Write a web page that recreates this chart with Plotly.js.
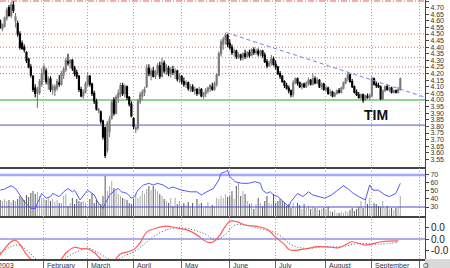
<!DOCTYPE html>
<html><head><meta charset="utf-8">
<script src="https://cdn.plot.ly/plotly-3.0.1.min.js"></script>
<style>html,body{margin:0;padding:0;background:#fff}#chart{width:450px;height:268px}</style>
</head><body><div id="chart"></div>
<script>
// ---- trading-day OHLC (index 0 = 2 Jan 2003) ----
const openP = [4.52,4.58,4.60,4.54,4.56,4.62,4.70,4.64,4.72,4.60,
4.58,4.50,4.43,4.40,4.36,4.31,4.25,4.18,4.09,4.05,
4.06,4.12,4.20,4.22,4.12,4.16,4.08,4.07,4.09,4.13,
4.12,4.19,4.23,4.29,4.28,4.30,4.24,4.21,4.18,4.08,
4.03,4.06,4.12,4.18,4.12,4.05,3.99,3.92,3.91,3.84,
3.79,3.62,3.76,3.86,4.00,3.90,4.02,4.04,4.11,4.05,
4.10,4.02,3.97,3.86,3.78,3.79,3.99,4.03,4.06,4.10,
4.24,4.19,4.22,4.18,4.21,4.26,4.18,4.28,4.22,4.24,
4.20,4.23,4.21,4.22,4.16,4.18,4.14,4.12,4.13,4.09,
4.10,4.07,4.08,4.05,4.08,4.03,4.05,4.07,4.09,4.10,
4.08,4.12,4.19,4.35,4.42,4.46,4.49,4.43,4.40,4.36,
4.37,4.33,4.34,4.32,4.35,4.33,4.36,4.34,4.38,4.36,
4.37,4.35,4.37,4.34,4.29,4.26,4.28,4.31,4.27,4.25,
4.20,4.18,4.14,4.11,4.09,4.07,4.04,4.13,4.16,4.13,
4.10,4.12,4.10,4.13,4.15,4.12,4.16,4.13,4.15,4.10,
4.12,4.08,4.09,4.05,4.06,4.03,4.05,4.07,4.06,4.09,
4.13,4.16,4.19,4.14,4.10,4.06,4.04,4.02,4.04,4.00,
4.03,4.02,4.03,4.16,4.12,4.11,4.10,4.01,4.07,4.10,
4.08,4.09,4.06,4.07,4.06,4.08];
const highP = [4.60,4.62,4.61,4.58,4.63,4.70,4.72,4.74,4.75,4.66,
4.60,4.52,4.45,4.42,4.37,4.32,4.27,4.19,4.12,4.10,
4.16,4.24,4.27,4.24,4.18,4.18,4.12,4.12,4.16,4.19,
4.22,4.25,4.32,4.35,4.31,4.31,4.26,4.23,4.19,4.10,
4.08,4.14,4.21,4.19,4.13,4.07,4.01,3.94,3.92,3.85,
3.80,3.84,3.88,4.00,4.02,4.04,4.08,4.13,4.13,4.12,
4.11,4.03,3.99,3.87,3.80,4.01,4.06,4.08,4.10,4.27,
4.27,4.24,4.25,4.23,4.28,4.29,4.32,4.30,4.27,4.26,
4.25,4.26,4.24,4.23,4.20,4.19,4.17,4.15,4.14,4.12,
4.12,4.10,4.09,4.10,4.09,4.06,4.09,4.10,4.12,4.13,
4.14,4.20,4.37,4.46,4.48,4.51,4.50,4.46,4.42,4.39,
4.38,4.36,4.35,4.36,4.38,4.37,4.38,4.39,4.40,4.39,
4.39,4.38,4.38,4.36,4.31,4.30,4.34,4.33,4.30,4.26,
4.22,4.19,4.15,4.13,4.11,4.08,4.15,4.17,4.17,4.14,
4.13,4.13,4.14,4.17,4.16,4.20,4.18,4.17,4.16,4.13,
4.13,4.11,4.10,4.08,4.07,4.06,4.08,4.09,4.10,4.14,
4.17,4.21,4.20,4.16,4.11,4.08,4.06,4.05,4.05,4.04,
4.05,4.05,4.18,4.17,4.14,4.13,4.11,4.08,4.11,4.12,
4.10,4.10,4.08,4.08,4.10,4.17];
const lowP = [4.50,4.54,4.54,4.52,4.55,4.60,4.63,4.62,4.66,4.55,
4.48,4.38,4.38,4.36,4.28,4.24,4.17,4.06,4.02,3.94,
4.04,4.10,4.15,4.12,4.08,4.06,4.04,4.03,4.07,4.10,
4.11,4.16,4.21,4.26,4.24,4.22,4.18,4.16,4.06,4.02,
4.01,4.05,4.10,4.10,4.03,3.97,3.92,3.90,3.82,3.70,
3.56,3.60,3.72,3.85,3.88,3.89,3.98,4.02,4.03,4.02,
4.00,3.95,3.87,3.78,3.75,3.77,3.97,4.00,4.03,4.09,
4.18,4.15,4.17,4.16,4.19,4.16,4.17,4.20,4.19,4.18,
4.17,4.19,4.16,4.14,4.13,4.12,4.10,4.09,4.07,4.06,
4.06,4.04,4.03,4.04,4.02,4.01,4.02,4.05,4.06,4.07,
4.07,4.10,4.18,4.33,4.38,4.42,4.40,4.38,4.34,4.33,
4.31,4.31,4.30,4.30,4.31,4.32,4.32,4.33,4.34,4.34,
4.33,4.33,4.32,4.28,4.24,4.25,4.26,4.26,4.23,4.19,
4.16,4.13,4.09,4.08,4.05,4.02,4.02,4.12,4.11,4.09,
4.08,4.09,4.09,4.11,4.11,4.11,4.12,4.12,4.09,4.08,
4.07,4.06,4.04,4.03,4.02,4.02,4.04,4.05,4.05,4.08,
4.12,4.14,4.13,4.09,4.05,4.03,4.01,4.00,3.98,3.99,
4.01,4.00,4.02,4.11,4.09,4.09,4.00,4.00,4.06,4.07,
4.06,4.05,4.05,4.05,4.05,4.07];
const closeP = [4.58,4.56,4.55,4.57,4.62,4.68,4.64,4.72,4.68,4.63,
4.50,4.40,4.39,4.38,4.30,4.25,4.19,4.08,4.05,4.08,
4.14,4.20,4.25,4.14,4.16,4.08,4.10,4.10,4.14,4.12,
4.20,4.23,4.30,4.28,4.30,4.24,4.20,4.18,4.08,4.03,
4.06,4.12,4.18,4.12,4.05,3.99,3.93,3.93,3.84,3.72,
3.58,3.82,3.85,3.98,3.90,4.02,4.05,4.11,4.05,4.10,
4.02,3.97,3.88,3.80,3.79,3.99,4.04,4.06,4.08,4.24,
4.20,4.22,4.18,4.21,4.26,4.18,4.28,4.22,4.25,4.20,
4.23,4.21,4.22,4.16,4.18,4.14,4.12,4.13,4.09,4.10,
4.07,4.08,4.05,4.08,4.03,4.05,4.07,4.09,4.11,4.08,
4.12,4.19,4.35,4.44,4.46,4.49,4.42,4.40,4.36,4.37,
4.33,4.34,4.32,4.35,4.33,4.36,4.34,4.38,4.36,4.37,
4.35,4.37,4.34,4.29,4.26,4.28,4.31,4.27,4.25,4.20,
4.18,4.14,4.11,4.09,4.07,4.04,4.13,4.16,4.13,4.10,
4.12,4.10,4.13,4.15,4.12,4.16,4.13,4.15,4.10,4.12,
4.08,4.09,4.05,4.06,4.03,4.05,4.07,4.06,4.09,4.13,
4.16,4.19,4.14,4.10,4.06,4.04,4.02,4.04,4.00,4.03,
4.02,4.03,4.16,4.12,4.11,4.10,4.01,4.07,4.10,4.08,
4.09,4.06,4.07,4.06,4.08,4.16];
const volume = [15,14,16,15,17,15,16,14,16,15,
17,20,18,16,21,19,23,25,22,24,
20,18,17,16,18,15,17,14,16,13,
13,20,22,10,13,18,12,17,15,14,
15,13,8,17,23,13,16,14,12,20,
40,25,30,35,28,25,22,20,18,17,16,
13,12,17,23,18,20,25,22,27,30,
26,30,27,25,22,20,17,15,13,18,
10,18,12,15,10,13,11,14,9,13,
8,17,12,13,8,10,14,9,11,10,
18,17,20,18,22,19,
20,25,17,30,33,20,25,22,15,12,
13,7,12,18,13,10,15,20,13,12,
22,13,15,17,15,13,10,12,8,13,
8,13,11,7,12,8,10,7,9,8,
8,6,7,8,7,9,5,4,6,3,
3,4,3,5,4,6,8,5,7,9,
15,8,17,12,18,10,13,12,10,9,
15,8,10,7,8,6,8,9,20];

// ---- oscillator (blue line, middle panel) ----
const rsiX = [2,4,7,9,11,13,16,18,19,21,23,25,26,29,31,33,35,36,38.5,41,42,45,47,49,51,52,54.5,56,57.5,60,62,63.5,65,67.5,70,72,74,76.5,79,81,85,89,92,94,96.5,99.5,102,103,105,106,107,109.5,112.5,115.5,118.5,121,122,124,125.5,127,129,131.5,134,135,137,138,140.5,143,145,147.5,150.5,153.5,156.5,159,161,163.5,166,169,171,172.5,175,178,180,183,185];
const rsiY = [51,52.5,56.6,53,45,36.7,28.4,28,34.6,47,41,43,47,43,49,53,49,51,38.8,47,51,45,34.6,28.4,41,45,51,53,49,47,41,43,51,57.5,59.6,57.5,59.6,57.5,53,55,51,49,49,45,49,53,63.8,72,74,76,68,61.6,59.6,59.6,61.6,59.6,51,47,49,45,43,36.7,30.4,36.7,43,47,43,49,45,43,41,45,51,56.6,53,47,43,38.8,57.5,51,51,45,43,47,59.6];

// ---- MACD (red) and signal (dotted) ----
const macdX = [1.9,8.7,14.2,17,25,29.3,32.5,35.9,39.8,42.1,45.3,47.6,51,54.5,56.8,62.7,65.9,69,73.6,78.2,82.8,87.4,91.9,96.6,99.4,102.5,104.8,107.1,110.2,114,120,124.6,127.7,131.5,134.5,141.4,147.5,153.6,156.6,159.7,162.8,168.8,176.5,184.1];
const macdY = [-0.058,-0.004,-0.058,-0.08,-0.11,-0.08,-0.047,-0.031,-0.036,-0.036,-0.051,-0.07,-0.095,-0.076,-0.055,-0.040,-0.015,0.025,0.040,0.047,0.040,0.033,0.015,-0.011,-0.011,0.015,0.044,0.065,0.063,0.051,0.045,0.033,0.008,-0.016,-0.040,-0.036,-0.028,-0.030,-0.032,-0.022,-0.010,-0.022,-0.010,-0.007];
const sigX = [1.9,10.1,15.6,17.9,25,29,32.5,37.1,41.7,46.2,50.8,54,59.8,62.9,67.4,72,78.1,82.7,90.3,96.4,100.2,104.8,109.4,114,120,126.2,130.7,135.3,141.4,150.5,158.2,165.8,175,184.1];
const sigY = [-0.051,-0.022,-0.051,-0.069,-0.095,-0.085,-0.065,-0.047,-0.033,-0.047,-0.069,-0.08,-0.058,-0.048,-0.022,0.008,0.033,0.041,0.033,0.015,-0.004,0.015,0.051,0.051,0.039,0.027,0.008,-0.022,-0.034,-0.028,-0.028,-0.016,-0.019,-0.012];

// ---- reference levels and trendline ----
const redDashDotLevels = [4.75];
const redDotLevels = [4.50, 4.40, 4.32, 4.25, 4.20];
const supportLevel = [4.00];
const lowLevel = [3.81];
const trendX = [105.5, 196.5];
const trendY = [4.51, 4.02];
const oscLevels = [70, 30];

// ---- axis labels ----
const monthTicks = [0, 22, 42, 63, 85, 107, 128, 151, 172, 194];
const monthLabels = ['2003','February','March','April','May','June','July','August','September','O'];
const priceTicks = [3.55,3.60,3.65,3.70,3.75,3.80,3.85,3.90,3.95,4.00,4.05,4.10,4.15,4.20,4.25,4.30,4.35,4.40,4.45,4.50,4.55,4.60,4.65,4.70,4.75];
const oscTicks = [30,40,50,60,70];
const macdTicks = [-0.04, 0, 0.04];
const macdTickText = ['-0.0','0.0','0.0'];

const days = openP.map((_, i) => i);
const volColors = days.map(i => closeP[i] >= openP[i] ? '#aaaaaa' : '#555555');
const xRange = [1.9, 196.3];

const FONT = 'Liberation Sans, Arial, sans-serif';

const traces = [
  {type:'candlestick', x:days, open:openP, high:highP, low:lowP, close:closeP,
   xaxis:'x', yaxis:'y', whiskerwidth:0,
   increasing:{line:{color:'#7a7a7a', width:1.1}, fillcolor:'#ffffff'},
   decreasing:{line:{color:'#000000', width:1.1}, fillcolor:'#000000'},
   hoverinfo:'skip'},
  {type:'scatter', mode:'lines', x:trendX, y:trendY, xaxis:'x', yaxis:'y',
   line:{color:'#7b7bee', width:1, dash:'4px,3px'}, hoverinfo:'skip'},
  {type:'bar', x:days, y:volume, xaxis:'x2', yaxis:'y2', width:0.45,
   marker:{color:volColors, line:{width:0}}, hoverinfo:'skip'},
  {type:'scatter', mode:'lines', x:rsiX, y:rsiY, xaxis:'x2', yaxis:'y4',
   line:{color:'#5a5af0', width:1}, hoverinfo:'skip'},
  {type:'scatter', mode:'lines', x:sigX, y:sigY, xaxis:'x3', yaxis:'y3',
   line:{color:'#555555', width:1, dash:'1px,2px', shape:'spline'}, hoverinfo:'skip'},
  {type:'scatter', mode:'lines', x:macdX, y:macdY, xaxis:'x3', yaxis:'y3',
   line:{color:'#ff5a5a', width:1.2, shape:'spline'}, hoverinfo:'skip'}
];

const shapes = [];
redDashDotLevels.forEach(v => shapes.push({type:'line', xref:'paper', x0:0, x1:1, yref:'y', y0:v, y1:v, line:{color:'#e06060', width:1, dash:'6px,2px,1px,2px'}}));
redDotLevels.forEach(v => shapes.push({type:'line', xref:'paper', x0:0, x1:1, yref:'y', y0:v, y1:v, line:{color:'#ee6a6a', width:1, dash:'1px,2px'}, layer:'below'}));
supportLevel.forEach(v => shapes.push({type:'line', xref:'paper', x0:0, x1:1, yref:'y', y0:v, y1:v, line:{color:'#6cc66c', width:1.3}, layer:'below'}));
lowLevel.forEach(v => shapes.push({type:'line', xref:'paper', x0:0, x1:1, yref:'y', y0:v, y1:v, line:{color:'#7474dc', width:1.3}, layer:'below'}));
shapes.push({type:'line', xref:'paper', x0:0, x1:1, yref:'y4', y0:oscLevels[0], y1:oscLevels[0], line:{color:'#a4a8ff', width:2.5}, layer:'below'});
shapes.push({type:'line', xref:'paper', x0:0, x1:1, yref:'y4', y0:oscLevels[1], y1:oscLevels[1], line:{color:'#4a4ad8', width:1}});
shapes.push({type:'line', xref:'paper', x0:0, x1:1, yref:'y3', y0:0, y1:0, line:{color:'#5a5ae0', width:1}, layer:'below'});
shapes.push({type:'rect', xref:'paper', x0:1.0, x1:1.06, yref:'paper', y0:-0.04, y1:0, fillcolor:'#d9d9d9', line:{width:0}});

const annotations = monthLabels.map((t, i) => {
  const inRange = monthTicks[i] >= xRange[0];
  return {text:t, xref: inRange ? 'x3' : 'paper', x: inRange ? monthTicks[i] : 0,
    xshift: inRange ? 1 : -4, yref:'paper', y:0, yshift:-1, xanchor:'left', yanchor:'top',
    showarrow:false, font:{family:FONT, size:7, color:'#333'}};
});
annotations.push({text:'<b>TIM</b>', xref:'x', yref:'y', x:174.1, y:3.89, showarrow:false,
  font:{family:FONT, size:14, color:'#111'}});

const gridX = {tickvals:monthTicks, showgrid:true, gridcolor:'#aaaaaa', griddash:'1px,2px', gridwidth:1,
  zeroline:false, showticklabels:false, range:xRange, showline:true, linecolor:'#444', linewidth:2, fixedrange:true};
const yCommon = {side:'right', showgrid:false, zeroline:false, showline:true, linecolor:'#444', linewidth:1,
  ticks:'outside', ticklen:3, tickcolor:'#444', tickfont:{family:FONT, size:7, color:'#333'}, fixedrange:true};

const layout = {
  width:450, height:268, margin:{l:0, r:25, t:0, b:9, pad:0},
  paper_bgcolor:'#ffffff', plot_bgcolor:'#ffffff', showlegend:false, hovermode:false,
  font:{family:FONT, size:7, color:'#333'},
  xaxis: Object.assign({}, gridX, {anchor:'y', rangeslider:{visible:false}, ticks:''}),
  xaxis2: Object.assign({}, gridX, {anchor:'y2', matches:'x', ticks:''}),
  xaxis3: Object.assign({}, gridX, {anchor:'y3', matches:'x', ticks:'outside', ticklen:9, tickcolor:'#666', linewidth:1.5}),
  yaxis: Object.assign({}, yCommon, {domain:[0.3552, 1], range:[3.4924, 4.7576], tickvals:priceTicks, tickformat:'.2f'}),
  yaxis2: {domain:[0.1660, 0.3514], range:[0, 48], anchor:'x2', visible:false, fixedrange:true},
  yaxis4: Object.assign({}, yCommon, {overlaying:'y2', anchor:'x2', range:[18.75, 78.75], tickvals:oscTicks}),
  yaxis3: Object.assign({}, yCommon, {domain:[0, 0.1660], anchor:'x3', range:[-0.0727, 0.0836], tickvals:macdTicks, ticktext:macdTickText,
    tickfont:{family:FONT, size:10, color:'#222'}}),
  shapes: shapes,
  annotations: annotations
};

Plotly.newPlot('chart', traces, layout, {staticPlot:true, displayModeBar:false});
</script>
</body></html>
